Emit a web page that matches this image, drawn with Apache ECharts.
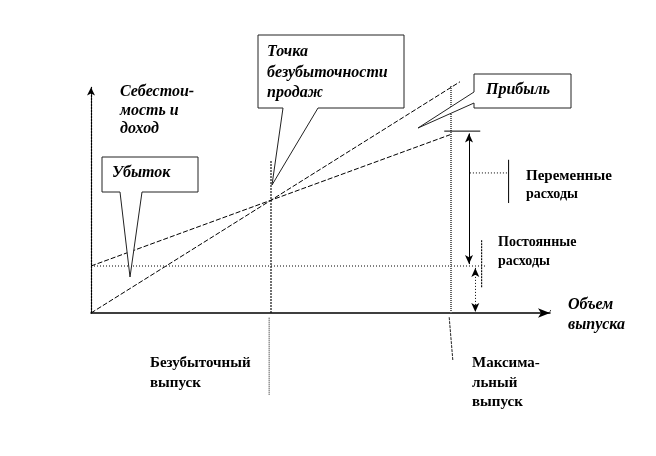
<!DOCTYPE html>
<html>
<head>
<meta charset="utf-8">
<script src="https://cdn.jsdelivr.net/npm/echarts@6/dist/echarts.min.js"></script>
<style>
  html, body { margin: 0; padding: 0; background: #fff; }
  #chart { width: 656px; height: 456px; }
</style>
</head>
<body>
<div id="chart"></div>
<script>
// объем выпуска (x) и себестоимость / доход (y), условные единицы
const revenueQ = [0, 82];
const revenueVal = [0, 49.2];
const costQ = [0, 80];
const costVal = [10, 38];
const fixedQ = [0, 88];
const fixedVal = [10, 10];

const breakEvenQ = 40;
const maxQ = 80;

const xMax = 102;
const yMax = 48;

const zip = (a, b) => a.map((v, i) => [v, b[i]]);

// стили линий
const solid = { color: '#000', width: 1, type: 'solid' };
const dotted = { color: '#000', width: 1, type: [1, 2] };
const dense = { color: '#111', width: 1.2, type: [2, 1] };
const grey2 = { color: '#666', width: 2, type: [1, 1] };

// вспомогательные линии (могут выходить за пределы осей)
const guideLines = [
  { pts: [[breakEvenQ, 0], [breakEvenQ, 32.5]], style: dense },
  { pts: [[39.6, -1], [39.6, -17.5]], style: { color: '#666', width: 1.5, type: [1, 1] } },
  { pts: [[maxQ, 0], [maxQ, 48.3]], style: grey2 },
  { pts: [[79.6, -0.9], [80.4, -10]], style: { color: '#222', width: 1, type: [3, 1] } },
  { pts: [[78.5, 38.7], [86.5, 38.7]], style: solid },
  { pts: [[86.8, 15.5], [86.8, 5.5]], style: dense },
  { pts: [[84.2, 29.8], [92.8, 29.8]], style: dotted },
  { pts: [[92.8, 32.6], [92.8, 23.4]], style: solid },
  { pts: [[102, 0.3], [103.8, 2.8]], style: { color: '#000', width: 1, type: [2, 1] } }
];

// стрелки
const seg = (a, b, style) => [
  { coord: a, symbol: 'arrow', symbolSize: [6, 9] },
  { coord: b, symbol: 'arrow', symbolSize: [6, 9], lineStyle: style }
];
const arrows = [
  seg([84, 38.2], [84, 10.4], solid),
  seg([85.4, 9.6], [85.4, 0.2], dotted)
];

const chart = echarts.init(document.getElementById('chart'));

const serif = '"Liberation Serif", "Times New Roman", serif';
const txt = (x, y, text, italic, size) => ({
  type: 'text', x: x, y: y, z: 100,
  style: {
    text: text, fill: '#000', verticalAlign: 'middle',
    font: (italic ? 'italic ' : '') + 'bold ' + size + 'px ' + serif
  }
});
const box = (pts) => ({
  type: 'polygon', z: 90,
  shape: { points: pts },
  style: { fill: '#fff', stroke: '#222', lineWidth: 1 }
});

const lineSeries = (name, data, style) => ({
  name: name, type: 'line', data: data, symbol: 'none', clip: false,
  lineStyle: style, silent: true
});

chart.setOption({
  animation: false,
  backgroundColor: '#fff',
  grid: { left: 91, right: 656 - 91 - xMax * 4.5, top: 313 - yMax * 4.7, bottom: 143 },
  xAxis: {
    type: 'value', min: 0, max: xMax,
    splitLine: { show: false }, axisTick: { show: false }, axisLabel: { show: false },
    axisLine: { show: true, symbol: ['none', 'arrow'], symbolSize: [7, 12], lineStyle: { color: '#000', width: 1.5 } }
  },
  yAxis: {
    type: 'value', min: 0, max: yMax,
    splitLine: { show: false }, axisTick: { show: false }, axisLabel: { show: false },
    axisLine: { show: true, symbol: ['none', 'arrow'], symbolSize: [6, 8], lineStyle: { color: '#000', width: 1.2, type: [2, 1] } }
  },
  series: [
    lineSeries('Доход', zip(revenueQ, revenueVal), { color: '#000', width: 1, type: [5, 2] }),
    lineSeries('Себестоимость', zip(costQ, costVal), { color: '#000', width: 1, type: [5, 2] }),
    lineSeries('Постоянные расходы', zip(fixedQ, fixedVal), { color: '#000', width: 1, type: [1, 2] }),
    ...guideLines.map((g, i) => lineSeries('guide' + i, g.pts, g.style)),
    {
      name: 'arrows', type: 'line', data: [], clip: false, silent: true,
      markLine: {
        silent: true, animation: false, label: { show: false },
        emphasis: { disabled: true },
        lineStyle: { color: '#000', width: 1 },
        data: arrows
      }
    }
  ],
  graphic: [
    box([[102, 157], [198, 157], [198, 192], [142, 192], [130, 277], [120, 192], [102, 192]]),
    box([[258, 35], [404, 35], [404, 108], [318, 108], [272, 185], [283, 108], [258, 108]]),
    box([[474, 74], [571, 74], [571, 108], [474, 108], [474, 103], [418, 128], [474, 92]]),
    txt(112, 173, 'Убыток', true, 16),
    txt(267, 52, 'Точка', true, 16),
    txt(267, 73, 'безубыточности', true, 16),
    txt(267, 93, 'продаж', true, 16),
    txt(486, 90, 'Прибыль', true, 16),
    txt(120, 92, 'Себестои-', true, 16),
    txt(120, 111, 'мость и', true, 16),
    txt(120, 129, 'доход', true, 16),
    txt(568, 305, 'Объем', true, 16),
    txt(568, 325, 'выпуска', true, 16),
    txt(526, 176, 'Переменные', false, 15),
    txt(526, 194, 'расходы', false, 14),
    txt(498, 242, 'Постоянные', false, 14),
    txt(498, 261, 'расходы', false, 14),
    txt(150, 363, 'Безубыточный', false, 15),
    txt(150, 383, 'выпуск', false, 15),
    txt(472, 363, 'Максима-', false, 15),
    txt(472, 383, 'льный', false, 15),
    txt(472, 402, 'выпуск', false, 15)
  ]
});
</script>
</body>
</html>
